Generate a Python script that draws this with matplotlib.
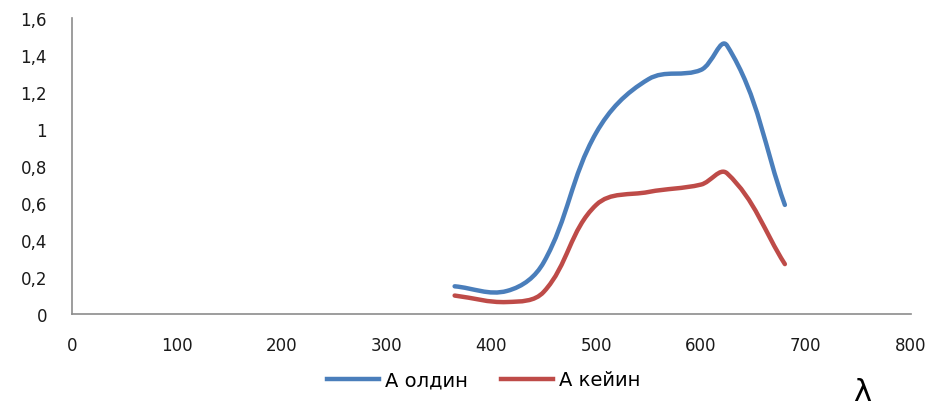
import numpy as np
import matplotlib
matplotlib.use("Agg")
import matplotlib.pyplot as plt
from matplotlib.path import Path
from matplotlib.patches import PathPatch
from matplotlib.lines import Line2D
from matplotlib.ticker import FuncFormatter

# wavelength (nm) and absorbance values
wavelength = [365, 415, 450, 500, 550, 600, 625, 680]
a_before = [0.15, 0.125, 0.28, 0.98, 1.27, 1.32, 1.45, 0.59]
a_after = [0.10, 0.065, 0.12, 0.59, 0.66, 0.70, 0.76, 0.27]

series_labels = ["А олдин", "А кейин"]
colors = ["#4A7EBB", "#BE4B48"]
x_ticks = [0, 100, 200, 300, 400, 500, 600, 700, 800]
y_ticks = [0, 0.2, 0.4, 0.6, 0.8, 1.0, 1.2, 1.4, 1.6]

X_MAX, Y_MAX = 800, 1.6
AX_W, AX_H = 839.0, 296.0   # axes size in pixels, for the smoothing


# smoothed line: cubic bezier, tangents worked out in screen space
def smooth_path(xs, ys, t=0.36):
    sx, sy = AX_W / X_MAX, AX_H / Y_MAX
    pts = np.column_stack([np.array(xs) * sx, np.array(ys) * sy])
    n = len(pts)
    tang = []
    for i in range(n):
        a = pts[max(i - 1, 0)]
        b = pts[min(i + 1, n - 1)]
        d = b - a
        tang.append(d / np.hypot(*d))
    verts = [pts[0]]
    codes = [Path.MOVETO]
    for i in range(n - 1):
        L = np.hypot(*(pts[i + 1] - pts[i]))
        verts += [pts[i] + tang[i] * L * t, pts[i + 1] - tang[i + 1] * L * t, pts[i + 1]]
        codes += [Path.CURVE4] * 3
    verts = np.array(verts) / [sx, sy]
    return Path(verts, codes)


fig = plt.figure(figsize=(9.52, 4.06), dpi=100)
ax = fig.add_axes([0.0756, 0.224, 0.881, 0.729])

for ys, col in zip([a_before, a_after], colors):
    patch = PathPatch(smooth_path(wavelength, ys), facecolor="none",
                      edgecolor=col, lw=3.2, capstyle="round", joinstyle="round")
    ax.add_patch(patch)

ax.set_xlim(0, X_MAX)
ax.set_ylim(0, Y_MAX)
ax.set_xticks(x_ticks)
ax.set_yticks(y_ticks)
ax.yaxis.set_major_formatter(FuncFormatter(lambda v, p: ("%g" % round(v, 1)).replace(".", ",")))
ax.tick_params(length=0, labelsize=12, colors="#1a1a1a")
ax.tick_params(axis="x", pad=16)
ax.tick_params(axis="y", pad=18)

for side in ["top", "right"]:
    ax.spines[side].set_visible(False)
for side in ["left", "bottom"]:
    ax.spines[side].set_color("#8C8C8C")
    ax.spines[side].set_linewidth(1.2)

handles = [Line2D([], [], color=c, lw=3.2) for c in colors]
fig.legend(handles, series_labels, loc="center", bbox_to_anchor=(0.508, 0.062),
           ncol=2, frameon=False, fontsize=14, handlelength=2.7,
           handletextpad=0.3, columnspacing=1.7)

fig.text(0.906, 0.07, "λ", fontsize=22, ha="center", va="top")

fig.savefig("out.png", dpi=100)
